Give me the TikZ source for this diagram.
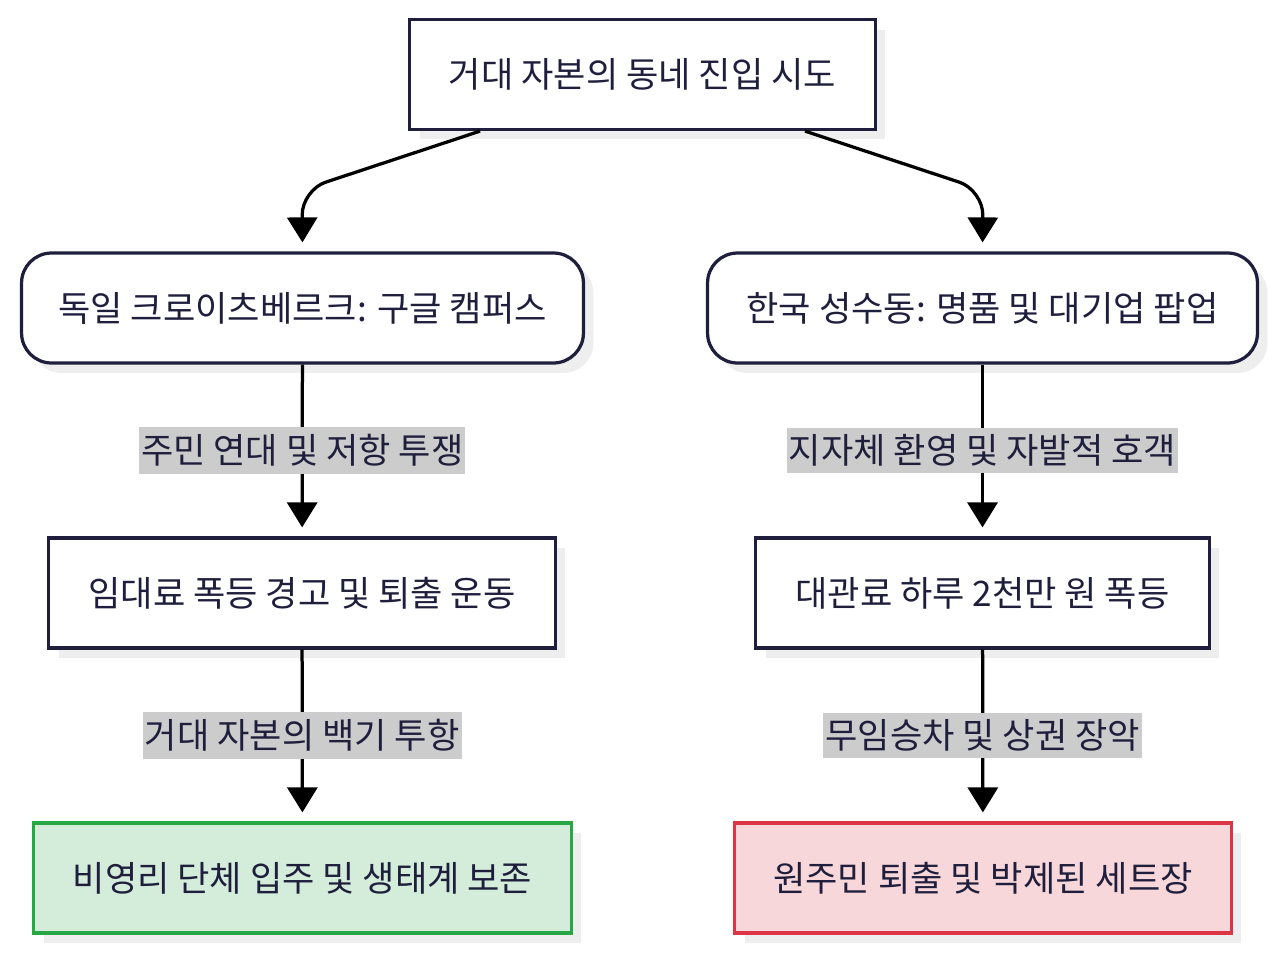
\documentclass[tikz,border=0pt]{standalone}
\usepackage{fontspec}
\setmainfont{Noto Sans CJK KR}
\usetikzlibrary{arrows.meta,shadows}
\definecolor{inkline}{HTML}{1F1F3D}
\definecolor{goodline}{HTML}{28A745}
\definecolor{goodfill}{HTML}{D4EDDA}
\definecolor{badline}{HTML}{DC3545}
\definecolor{badfill}{HTML}{F8D7DA}
\definecolor{tagfill}{HTML}{CCCCCC}
\definecolor{shade}{HTML}{EEEEEE}

\tikzset{
  box/.style={draw=inkline, line width=0.065cm, fill=white, text=inkline,
    minimum height=2.2cm, inner sep=0pt,
    drop shadow={shadow xshift=0.2cm, shadow yshift=-0.2cm, fill=shade, opacity=1},
    font=\fontsize{20}{24}\selectfont},
  roundbox/.style={box, rounded corners=0.6cm},
  goodbox/.style={box, draw=goodline, fill=goodfill},
  badbox/.style={box, draw=badline, fill=badfill},
  flow/.style={-{Triangle[width=0.6cm,length=0.5cm]}, line width=0.065cm, black,
    shorten >=0.18cm},
  tag/.style={fill=tagfill, text=inkline, inner xsep=0.04cm, inner ysep=0.14cm,
    font=\fontsize{20}{24}\selectfont}
}

\begin{document}
\begin{tikzpicture}[x=0.02cm, y=-0.02cm]
  \useasboundingbox (0,0) rectangle (1280,953);

  % top
  \node[box, minimum width=9.32cm] (start) at (642.5,74.5) {거대 자본의 동네 진입 시도};

  % two cases
  \node[roundbox, minimum width=11.24cm] (berlin) at (302.5,308) {독일 크로이츠베르크: 구글 캠퍼스};
  \node[roundbox, minimum width=11cm] (seoul) at (982.5,308) {한국 성수동: 명품 및 대기업 팝업};

  \node[box, minimum width=10.14cm] (warn) at (302,593) {임대료 폭등 경고 및 퇴출 운동};
  \node[box, minimum width=9.08cm] (rent) at (982.5,593) {대관료 하루 2천만 원 폭등};

  \node[goodbox, minimum width=10.76cm] (keep) at (302.5,878) {비영리 단체 입주 및 생태계 보존};
  \node[badbox, minimum width=9.94cm] (lost) at (983,878) {원주민 퇴출 및 박제된 세트장};

  \coordinate (bendL) at (302,190);
  \coordinate (bendR) at (983,190);

  \draw[flow, rounded corners=0.5cm] ([xshift=-3.25cm]start.south) -- (bendL) -- (berlin.north);
  \draw[flow, rounded corners=0.5cm] ([xshift=3.25cm]start.south) -- (bendR) -- (seoul.north);

  \draw[flow] (berlin) -- node[tag, pos=0.5] {주민 연대 및 저항 투쟁} (warn);
  \draw[flow] (seoul) -- node[tag, pos=0.5] {지자체 환영 및 자발적 호객} (rent);
  \draw[flow] (warn) -- node[tag, pos=0.5] {거대 자본의 백기 투항} (keep);
  \draw[flow] (rent) -- node[tag, pos=0.5] {무임승차 및 상권 장악} (lost);
\end{tikzpicture}
\end{document}
